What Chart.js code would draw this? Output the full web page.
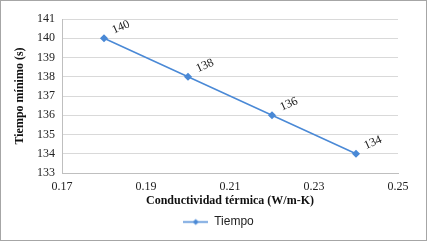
<!DOCTYPE html>
<html>
<head>
<meta charset="utf-8">
<script src="https://cdn.jsdelivr.net/npm/chart.js@4"></script>
<style>
  html, body { margin: 0; padding: 0; background: #fff; }
  #wrap { width: 425px; height: 239px; border: 1px solid #a6a6a6; }
</style>
</head>
<body>
<div id="wrap"><canvas id="c" width="425" height="239"></canvas></div>
<script>
// conductividad (W/m-K) vs tiempo mínimo (s)
const conductividad = [0.18, 0.20, 0.22, 0.24];
const tiempo = [140, 138, 136, 134];
const xTicks = [0.17, 0.19, 0.21, 0.23, 0.25];
const yTicks = [133, 134, 135, 136, 137, 138, 139, 140, 141];

const BLUE = '#4A89D6';
const GRID = '#d9d9d9';
const SERIF = '"Liberation Serif", "Times New Roman", serif';

// legend marker: short line with a diamond in the middle
function legendMarker() {
  const m = document.createElement('canvas');
  m.width = 25; m.height = 9;
  const g = m.getContext('2d');
  g.strokeStyle = BLUE; g.lineWidth = 1.5;
  g.beginPath(); g.moveTo(0, 4.5); g.lineTo(25, 4.5); g.stroke();
  g.fillStyle = BLUE;
  g.beginPath(); g.moveTo(12.5, 1.5); g.lineTo(15.5, 4.5); g.lineTo(12.5, 7.5); g.lineTo(9.5, 4.5); g.closePath(); g.fill();
  return m;
}

// rotated value labels above each point
const valueLabels = {
  id: 'valueLabels',
  afterLayout(chart) {
    // legend sits a bit right of the canvas centre in the original
    if (chart.legend) { chart.legend.left += 13; chart.legend.right += 13; }
  },
  afterDatasetsDraw(chart) {
    const ctx = chart.ctx;
    const meta = chart.getDatasetMeta(0);
    ctx.save();
    ctx.font = '12px ' + SERIF;
    ctx.fillStyle = '#222';
    ctx.textAlign = 'center';
    ctx.textBaseline = 'middle';
    meta.data.forEach((pt, i) => {
      ctx.save();
      ctx.translate(pt.x + 17, pt.y - 11);
      ctx.rotate(-Math.PI / 7.5);
      ctx.fillText(String(tiempo[i]), 0, 0);
      ctx.restore();
    });
    ctx.restore();
  }
};

new Chart(document.getElementById('c').getContext('2d'), {
  type: 'line',
  data: {
    datasets: [{
      label: 'Tiempo',
      data: conductividad.map((x, i) => ({ x, y: tiempo[i] })),
      borderColor: BLUE,
      backgroundColor: BLUE,
      borderWidth: 1.5,
      pointStyle: 'rectRot',
      pointRadius: 3,
      tension: 0,
      fill: false
    }]
  },
  options: {
    responsive: false,
    animation: false,
    layout: { padding: { left: 12, right: 28, top: 18, bottom: 2 } },
    scales: {
      x: {
        type: 'linear',
        min: 0.17, max: 0.25,
        afterBuildTicks: (s) => { s.ticks = xTicks.map(v => ({ value: v })); },
        afterFit: (s) => { s.height = 35; },
        grid: { display: false, drawTicks: false },
        border: { display: true, color: '#bfbfbf' },
        ticks: { color: '#222', font: { family: SERIF, size: 12 }, padding: 7, maxRotation: 0,
                 callback: (v) => Number(v).toFixed(2) },
        title: { display: true, text: 'Conductividad térmica (W/m-K)', color: '#111',
                 font: { family: SERIF, size: 12, weight: 'bold' }, padding: { top: 0, bottom: 0 } }
      },
      y: {
        min: 133, max: 141,
        afterBuildTicks: (s) => { s.ticks = yTicks.map(v => ({ value: v })); },
        afterFit: (s) => { s.width = 49; },
        grid: { color: GRID, drawTicks: false },
        border: { display: true, color: '#bfbfbf' },
        ticks: { color: '#222', font: { family: SERIF, size: 12 }, padding: 7 },
        title: { display: true, text: 'Tiempo mínimo (s)', color: '#111',
                 font: { family: SERIF, size: 12, weight: 'bold' }, padding: { top: 0, bottom: 2 } }
      }
    },
    plugins: {
      legend: {
        position: 'bottom',
        labels: {
          color: '#222',
          padding: 8,
          font: { family: '"Liberation Sans", Arial, sans-serif', size: 12 },
          usePointStyle: true,
          pointStyleWidth: 25,
          generateLabels: (chart) => [{
            text: 'Tiempo', pointStyle: legendMarker(), fontColor: '#222',
            strokeStyle: BLUE, fillStyle: BLUE, lineWidth: 0, datasetIndex: 0
          }]
        }
      },
      tooltip: { enabled: false }
    }
  },
  plugins: [valueLabels]
});
</script>
</body>
</html>
